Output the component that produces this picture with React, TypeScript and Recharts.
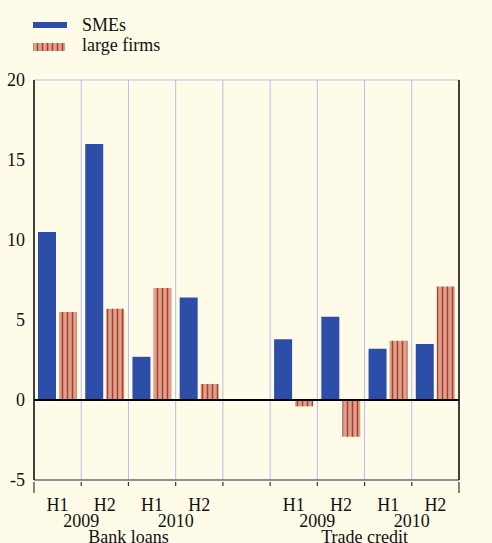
import React from "react";
import { BarChart, Bar, XAxis, YAxis, CartesianGrid, ReferenceLine } from "recharts";

// half-year slots; the empty slot separates the two panels
const halves = ["H1", "H2", "H1", "H2", "", "H1", "H2", "H1", "H2"];
// labels drawn at the left edge of the slot they are listed under
const years = ["", "2009", "", "2010", "", "", "2009", "", "2010"];
const groups = ["", "", "Bank loans", "", "", "", "", "Trade credit", ""];

const smes = [10.5, 16.0, 2.7, 6.4, null, 3.8, 5.2, 3.2, 3.5];
const largeFirms = [5.5, 5.7, 7.0, 1.0, null, -0.4, -2.3, 3.7, 7.1];

const yTicks = [-5, 0, 5, 10, 15, 20];

const data = halves.map((h, i) => ({
  key: `s${i}`,
  smes: smes[i],
  large: largeFirms[i],
}));

const BG = "#fefce9";
const BLUE = "#2c4ea8";
const SALMON = "#d9a38d";
const STRIPE = "#b53a2d";
const GRID = "#b7bdea";
const FONT = "'Liberation Serif', 'Times New Roman', serif";
const FS = 18;

const W = 492;
const H = 543;
const LEFT_W = 34;
const RIGHT_W = 33;
const SLOT = (W - LEFT_W - RIGHT_W) / halves.length;

function XTick(props: any) {
  const { x, y, payload } = props;
  const i = Number(String(payload.value).slice(1));
  const left = x - SLOT / 2;
  const right = x + SLOT / 2;
  const last = i === halves.length - 1;
  return (
    <g>
      <line x1={left} x2={left} y1={y} y2={y + (i === 0 ? 11 : 4)} stroke="#333" strokeWidth={1.2} />
      {last && <line x1={right} x2={right} y1={y} y2={y + 11} stroke="#333" strokeWidth={1.2} />}
      <text x={x} y={y + 29} textAnchor="middle" fontSize={FS} fill="#111" fontFamily={FONT}>
        {halves[i]}
      </text>
      {years[i] && (
        <text x={left} y={y + 45} textAnchor="middle" fontSize={FS} fill="#111" fontFamily={FONT}>
          {years[i]}
        </text>
      )}
      {groups[i] && (
        <text x={left} y={y + 61} textAnchor="middle" fontSize={FS} fill="#111" fontFamily={FONT}>
          {groups[i]}
        </text>
      )}
    </g>
  );
}

export default function App() {
  return (
    <div
      style={{
        position: "absolute",
        left: 0,
        top: 0,
        width: W,
        height: H,
        background: BG,
        fontFamily: FONT,
        overflow: "hidden",
      }}
    >
      {/* legend */}
      <svg width={200} height={60} style={{ position: "absolute", left: 0, top: 0 }}>
        <defs>
          <pattern id="stripes" patternUnits="userSpaceOnUse" width={5} height={10}>
            <rect x={0} y={0} width={5} height={10} fill={SALMON} />
            <line x1={2.5} x2={2.5} y1={0} y2={10} stroke={STRIPE} strokeWidth={1.5} />
          </pattern>
        </defs>
        <rect x={33} y={22} width={34} height={6} fill={BLUE} />
        <rect x={33} y={43} width={32} height={8} fill="url(#stripes)" />
        <text x={82} y={31} fontSize={FS} fill="#111" fontFamily={FONT}>SMEs</text>
        <text x={82} y={51} fontSize={FS} fill="#111" fontFamily={FONT}>large firms</text>
      </svg>

      <div style={{ position: "absolute", left: 0, top: 0 }}>
        <BarChart
          width={W}
          height={H}
          data={data}
          margin={{ top: 80, right: 0, left: 0, bottom: 0 }}
          barCategoryGap={4}
          barGap={3}
        >
          <CartesianGrid
            stroke={GRID}
            strokeWidth={1}
            verticalCoordinatesGenerator={({ offset }: any) =>
              halves.map((_, i) => offset.left + (i + 1) * (offset.width / halves.length)).slice(0, -1)
            }
          />
          <XAxis
            dataKey="key"
            height={63}
            axisLine={{ stroke: "#444", strokeWidth: 1.2 }}
            tickLine={false}
            tickSize={0}
            tick={<XTick />}
            interval={0}
          />
          <YAxis
            yAxisId="left"
            width={LEFT_W}
            domain={[-5, 20]}
            ticks={yTicks}
            axisLine={{ stroke: "#000", strokeWidth: 1.5 }}
            tickLine={false}
            tickSize={0}
            tickMargin={9}
            tick={{ fill: "#111", fontSize: FS, fontFamily: FONT }}
          />
          <YAxis
            yAxisId="right"
            orientation="right"
            width={RIGHT_W}
            domain={[-5, 20]}
            ticks={yTicks}
            axisLine={{ stroke: "#000", strokeWidth: 1.5 }}
            tickLine={false}
            tickSize={0}
            tickMargin={8}
            tick={{ fill: "#111", fontSize: FS, fontFamily: FONT, textAnchor: "start" }}
          />
          <Bar yAxisId="left" dataKey="smes" fill={BLUE} isAnimationActive={false} />
          <Bar yAxisId="left" dataKey="large" fill="url(#stripes)" isAnimationActive={false} />
          <ReferenceLine yAxisId="left" y={0} stroke="#000" strokeWidth={2} />
        </BarChart>
      </div>
    </div>
  );
}
